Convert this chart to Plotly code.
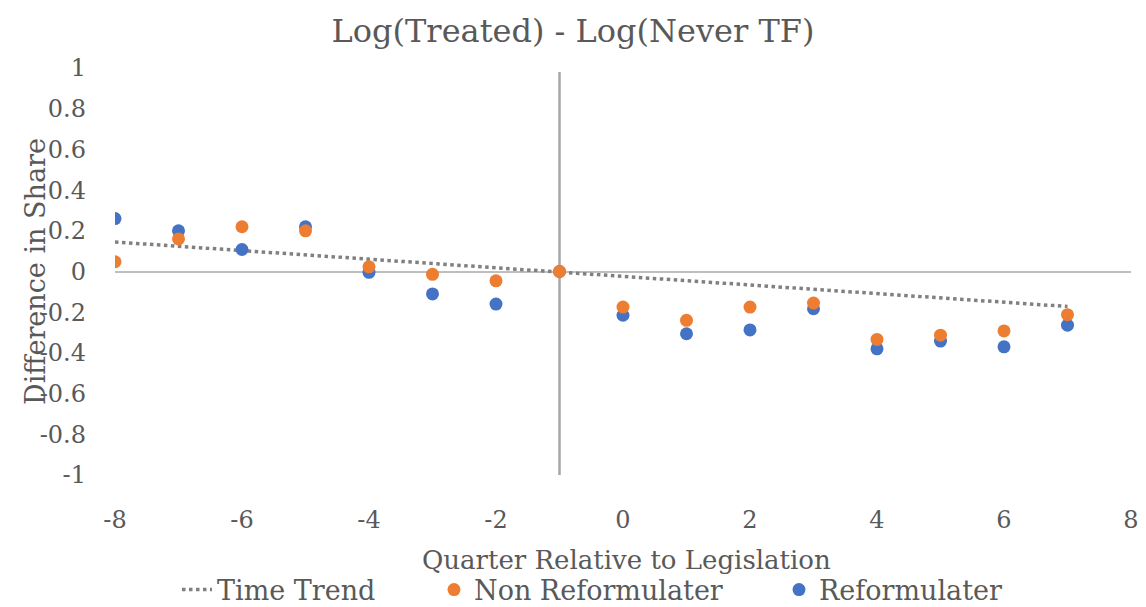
import plotly.graph_objects as go

quarters = [-8, -7, -6, -5, -4, -3, -2, -1, 0, 1, 2, 3, 4, 5, 6, 7]
non_reformulater = [0.048, 0.16, 0.22, 0.20, 0.023, -0.014, -0.046, 0.0,
                    -0.175, -0.24, -0.175, -0.155, -0.334, -0.313, -0.292, -0.212]
reformulater = [0.26, 0.20, 0.108, 0.22, -0.004, -0.11, -0.16, 0.0,
                -0.215, -0.306, -0.287, -0.183, -0.38, -0.342, -0.37, -0.264]
trend_x = [-8, 7]
trend_y = [0.145, -0.172]

x_ticks = [-8, -6, -4, -2, 0, 2, 4, 6, 8]
y_ticks = [-1, -0.8, -0.6, -0.4, -0.2, 0, 0.2, 0.4, 0.6, 0.8, 1]
y_tick_text = ["-1", "-0.8", "-0.6", "-0.4", "-0.2", "0", "0.2", "0.4", "0.6", "0.8", "1"]

FONT = "DejaVu Serif"
TXT = "#595959"

W, H = 1146, 607
L, R, T, B = 115, 15, 68, 132
PW, PH = W - L - R, H - T - B

fig = go.Figure()
fig.add_trace(go.Scatter(
    x=trend_x, y=trend_y, mode="lines", name="Time Trend",
    line=dict(color="#808080", width=3.5, dash="dot"), legend="legend"))
fig.add_trace(go.Scatter(
    x=quarters, y=reformulater, mode="markers", name="Reformulater",
    marker=dict(color="#4472C4", size=13), legend="legend3"))
fig.add_trace(go.Scatter(
    x=quarters, y=non_reformulater, mode="markers", name="Non Reformulater",
    marker=dict(color="#ED7D31", size=13), legend="legend2"))

fig.add_shape(type="line", xref="x", yref="y", x0=-1, x1=-1, y0=-1.02, y1=0.98,
              line=dict(color="#a6a6a6", width=2.5), layer="below")

fig.add_annotation(text="Quarter Relative to Legislation", xref="paper", yref="paper",
                   x=(626 - L) / PW, y=(H - B - 560) / PH, xanchor="center", yanchor="middle",
                   showarrow=False, font=dict(size=26, family=FONT, color=TXT))
fig.add_annotation(text="Difference in Share", xref="paper", yref="paper",
                   x=(35 - L) / PW, y=(H - B - 272) / PH, xanchor="center", yanchor="middle",
                   textangle=-90, showarrow=False, font=dict(size=27, family=FONT, color=TXT))

def leg(xpx):
    return dict(orientation="h", xref="container", yref="container",
                x=xpx / W, xanchor="left", y=(H - 590) / H, yanchor="middle",
                font=dict(size=27, color=TXT, family=FONT),
                bgcolor="rgba(0,0,0,0)", borderwidth=0)

fig.update_layout(
    width=W, height=H,
    margin=dict(l=L, r=R, t=T, b=B, autoexpand=False),
    paper_bgcolor="white", plot_bgcolor="white",
    font=dict(family=FONT, color=TXT, size=24),
    title=dict(text="Log(Treated) - Log(Never TF)", x=0.5, xref="container",
               xanchor="center", y=0.95, yref="container", yanchor="middle",
               font=dict(size=32, color=TXT, family=FONT)),
    showlegend=True,
    legend=leg(177),
    legend2=leg(434),
    legend3=leg(779),
    xaxis=dict(range=[-8, 8], tickvals=x_ticks, ticktext=[str(v) for v in x_ticks],
               showgrid=False, zeroline=False, showline=False, ticks="",
               automargin=False,
               ticklabelstandoff=28, tickfont=dict(size=24, family=FONT)),
    yaxis=dict(range=[-1, 1], tickvals=y_ticks, ticktext=y_tick_text,
               showgrid=False, zeroline=True, zerolinecolor="#bfbfbf", zerolinewidth=2,
               automargin=False,
               showline=False, ticks="", ticklabelstandoff=28, tickfont=dict(size=24, family=FONT)),
)

fig.write_html("out.html")
